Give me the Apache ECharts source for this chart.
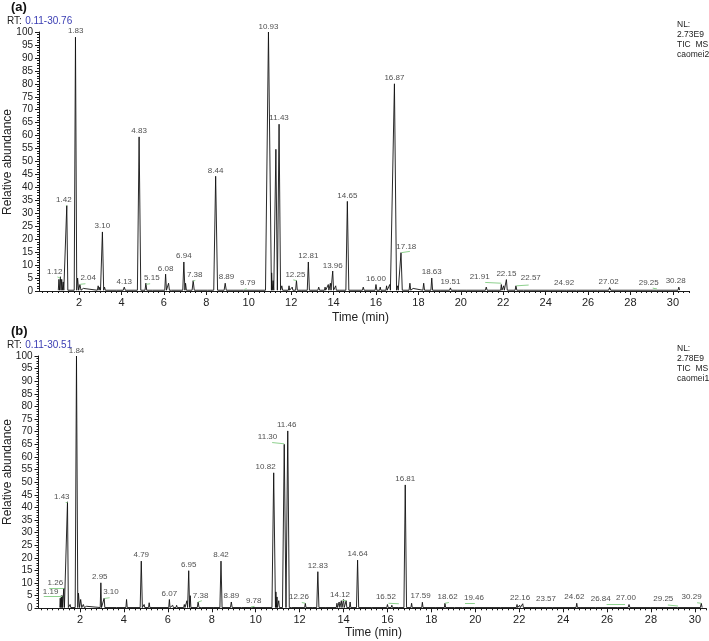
<!DOCTYPE html>
<html>
<head>
    <meta charset="UTF-8">
    <title>TIC caomei</title>
    <script src="https://cdn.jsdelivr.net/npm/echarts@6/dist/echarts.min.js"></script>
    <style>
        html, body { margin: 0; padding: 0; background: #fff; }
        #main { width: 709px; height: 641px; }
    </style>
</head>
<body>
<div id="main"></div>
<script>
    // peaks: [retention time, relative abundance, half width]
    var peaksA = [
        [1.05, 4.5, 0.03], [1.12, 5.5, 0.03], [1.18, 4.5, 0.03], [1.25, 3.5, 0.03],
        [1.42, 33, 0.05], [1.83, 98, 0.06], [1.93, 5, 0.05], [2.04, 2.5, 0.05], [2.2, 1, 0.05],
        [2.9, 2, 0.04], [2.98, 1.5, 0.03], [3.10, 22.8, 0.06], [3.2, 1.5, 0.04],
        [3.8, 0.8, 0.04], [4.13, 1.5, 0.05], [4.83, 59.5, 0.08], [5.15, 3, 0.04], [5.5, 0.7, 0.04],
        [6.08, 6.5, 0.04], [6.22, 3, 0.04], [6.4, 1, 0.04], [6.94, 11.2, 0.05], [7.02, 3, 0.04],
        [7.38, 4, 0.05], [7.6, 0.8, 0.04], [8.1, 0.8, 0.04], [8.44, 44.3, 0.09], [8.89, 3, 0.05],
        [9.3, 0.6, 0.04], [9.79, 0.8, 0.04], [10.93, 100, 0.14], [11.08, 7, 0.03], [11.15, 4, 0.03],
        [11.28, 54.7, 0.07], [11.43, 64.4, 0.07], [11.56, 2, 0.04], [11.9, 2, 0.03], [12.05, 1.5, 0.03],
        [12.25, 4, 0.04], [12.5, 1, 0.03], [12.81, 11.2, 0.05], [13.3, 1.5, 0.04], [13.6, 1.5, 0.03],
        [13.75, 2.5, 0.03], [13.85, 3, 0.03], [13.96, 7.7, 0.04], [14.1, 2, 0.03], [14.3, 1, 0.03],
        [14.65, 34.6, 0.07], [15.4, 1.5, 0.04], [16.0, 2.5, 0.04], [16.2, 1.5, 0.03], [16.5, 2, 0.03],
        [16.65, 2.5, 0.03], [16.87, 80, 0.1], [17.02, 2, 0.03], [17.18, 14.8, 0.06], [17.6, 3, 0.04],
        [17.75, 1, 0.03], [18.25, 3, 0.04], [18.63, 5, 0.04], [19.1, 0.8, 0.04], [19.51, 1.2, 0.04],
        [19.9, 0.8, 0.04], [20.3, 0.8, 0.04], [21.2, 1.5, 0.04], [21.91, 2.5, 0.03], [22.02, 2, 0.03],
        [22.15, 4.4, 0.04], [22.6, 2, 0.04], [23.0, 1, 0.04], [23.3, 0.8, 0.04], [24.2, 0.6, 0.04],
        [24.92, 0.8, 0.05], [25.5, 0.5, 0.04], [26.5, 0.6, 0.04], [27.02, 1.3, 0.05], [28.3, 0.5, 0.04],
        [29.25, 0.8, 0.04], [30.28, 1.5, 0.04]
    ];
    var peaksB = [
        [1.10, 4, 0.02], [1.15, 5, 0.02], [1.19, 5, 0.02], [1.26, 8, 0.03], [1.35, 1, 0.02],
        [1.43, 42.2, 0.04], [1.55, 1.5, 0.03], [1.84, 100, 0.06], [1.93, 6, 0.05], [2.03, 3.5, 0.05],
        [2.15, 1.5, 0.05], [2.3, 0.8, 0.04], [2.95, 10.1, 0.03], [3.10, 4, 0.03], [3.7, 0.6, 0.03],
        [4.12, 3.5, 0.03], [4.79, 18.7, 0.05], [4.92, 1.5, 0.03], [5.15, 2.2, 0.03], [6.07, 3.5, 0.03],
        [6.22, 1.2, 0.03], [6.4, 1.2, 0.03], [6.75, 1.5, 0.03], [6.87, 3, 0.03], [6.95, 14.9, 0.04],
        [7.02, 5, 0.03], [7.38, 2.5, 0.04], [7.5, 0.8, 0.03], [8.1, 1, 0.04], [8.42, 18.7, 0.05],
        [8.89, 2.5, 0.04], [9.4, 0.5, 0.04], [9.78, 0.6, 0.04], [10.82, 53.7, 0.08], [10.92, 6.5, 0.03],
        [10.97, 4.5, 0.02], [11.05, 3, 0.03], [11.30, 65, 0.08], [11.46, 70.3, 0.07], [11.6, 1, 0.03],
        [12.26, 2, 0.03], [12.6, 1, 0.03], [12.83, 14.5, 0.05], [13.2, 1, 0.04], [13.7, 2, 0.03],
        [13.8, 2.5, 0.03], [13.9, 3, 0.03], [14.0, 3.5, 0.03], [14.12, 3, 0.03], [14.3, 2.5, 0.03],
        [14.64, 19.1, 0.05], [15.3, 0.6, 0.04], [16.0, 1.5, 0.03], [16.2, 1.2, 0.03], [16.52, 1, 0.03],
        [16.81, 48.9, 0.06], [17.1, 2, 0.03], [17.59, 2.4, 0.03], [18.2, 0.8, 0.03], [18.62, 2, 0.03],
        [19.1, 0.6, 0.04], [19.46, 0.8, 0.04], [20.0, 0.6, 0.04], [21.2, 0.6, 0.04], [21.9, 1.5, 0.03],
        [22.02, 1.2, 0.03], [22.16, 1.8, 0.03], [23.3, 0.6, 0.04], [23.57, 0.6, 0.04], [24.62, 2, 0.03],
        [24.8, 1, 0.03], [25.5, 0.5, 0.04], [26.5, 0.5, 0.04], [27.0, 1.5, 0.04], [28.0, 0.5, 0.04],
        [29.25, 0.8, 0.04], [30.29, 2, 0.04]
    ];

    // peak annotations: [text, x, y]
    var labelsA = [
        ['1.12', 0.85, 5.3], ['1.42', 1.28, 33], ['1.83', 1.84, 98.3], ['2.04', 2.43, 2.8],
        ['3.10', 3.1, 23], ['4.13', 4.13, 1.6], ['4.83', 4.83, 59.6], ['5.15', 5.43, 2.8],
        ['6.08', 6.08, 6.6], ['6.94', 6.94, 11.3], ['7.38', 7.45, 4.2], ['8.44', 8.44, 44.4],
        ['8.89', 8.95, 3.2], ['9.79', 9.95, 0.9], ['10.93', 10.93, 100], ['11.43', 11.43, 64.6],
        ['12.25', 12.2, 4.2], ['12.81', 12.81, 11.3], ['13.96', 13.96, 7.8], ['14.65', 14.65, 34.8],
        ['16.00', 16.0, 2.6], ['16.87', 16.87, 80.2], ['17.18', 17.43, 14.8], ['18.63', 18.63, 5.1],
        ['19.51', 19.51, 1.3], ['21.91', 20.89, 3.2], ['22.15', 22.15, 4.6], ['22.57', 23.3, 2.9],
        ['24.92', 24.87, 1.0], ['27.02', 26.97, 1.6], ['29.25', 28.86, 1.2], ['30.28', 30.13, 1.7]
    ];
    var labelsB = [
        ['1.19', 0.66, 4.4], ['1.26', 0.88, 8], ['1.43', 1.17, 42], ['1.84', 1.84, 100],
        ['2.95', 2.9, 10.3], ['3.10', 3.41, 4.3], ['4.79', 4.79, 18.9], ['6.07', 6.07, 3.7],
        ['6.95', 6.95, 15.1], ['7.38', 7.49, 2.8], ['8.42', 8.42, 18.9], ['8.89', 8.89, 2.7],
        ['9.78', 9.91, 0.7], ['10.82', 10.45, 53.9], ['11.30', 10.54, 65.7], ['11.46', 11.41, 70.5],
        ['12.26', 11.97, 2.2], ['12.83', 12.83, 14.7], ['14.12', 13.84, 3.2], ['14.64', 14.64, 19.3],
        ['16.52', 15.93, 2.2], ['16.81', 16.81, 49.1], ['17.59', 17.51, 2.6], ['18.62', 18.74, 2.2],
        ['19.46', 19.94, 1.8], ['22.16', 22.04, 2.0], ['23.57', 23.22, 1.4], ['24.62', 24.51, 2.2],
        ['26.84', 25.71, 1.6], ['27.00', 26.86, 2.0], ['29.25', 28.56, 1.4], ['30.29', 29.85, 2.4]
    ];

    // green leader lines: [x1, y1, x2, y2]
    var leadersA = [
        [0.98, 5.4, 1.12, 5.0], [1.38, 33, 1.42, 33], [2.06, 2.6, 2.3, 2.8], [5.17, 2.6, 5.35, 2.8],
        [7.38, 3.8, 7.48, 4.1], [9.79, 0.6, 9.9, 0.9], [12.1, 4.3, 12.25, 4.0], [17.2, 14.8, 17.6, 15.3],
        [21.15, 3.3, 21.91, 3.0], [22.62, 2.0, 23.2, 2.3], [29.05, 1.1, 29.25, 0.8]
    ];
    var leadersB = [
        [0.35, 4.9, 1.19, 4.9], [0.6, 7.9, 1.26, 7.9], [1.35, 42.2, 1.43, 42.2], [3.12, 3.9, 3.35, 4.2],
        [7.38, 2.5, 7.55, 3.0], [9.78, 0.5, 9.95, 0.8], [10.75, 65.7, 11.3, 65.2], [12.1, 2.3, 12.26, 2.0],
        [13.95, 3.2, 14.12, 3.0], [16.05, 2.0, 16.52, 1.8], [18.62, 2.0, 18.8, 2.3], [19.53, 2.0, 19.98, 2.0],
        [25.98, 1.6, 26.82, 1.6], [28.77, 1.3, 29.23, 0.9], [30.1, 2.2, 30.29, 2.0]
    ];

    var timeTicks = [2, 4, 6, 8, 10, 12, 14, 16, 18, 20, 22, 24, 26, 28, 30];
    var rangeA = [0.11, 30.76];
    var rangeB = [0.11, 30.51];

    var BASE = 0.3;
    function trace(peaks) {
        var pts = [];
        peaks.forEach(function (p) {
            pts.push([p[0] - p[2], BASE]);
            pts.push([p[0], p[1]]);
            pts.push([p[0] + p[2], BASE]);
        });
        return pts;
    }
    function labelData(list) {
        return list.map(function (l) { return { name: l[0], value: [l[1], l[2]] }; });
    }
    function leaderData(list) {
        return list.map(function (l) { return { coords: [[l[0], l[1]], [l[2], l[3]]] }; });
    }
    var minorTicks = [];
    for (var t = 0.25; t < 31; t += 0.25) {
        if (t % 2 !== 0) minorTicks.push(t);
    }

    var font = 'Liberation Sans, Arial, sans-serif';
    var ink = '#1a1a1a';

    function majorX(grid, range) {
        return {
            type: 'value', gridIndex: grid, min: range[0], max: range[1], position: 'bottom',
            axisLine: { show: true, lineStyle: { color: ink, width: 1 } },
            axisTick: { show: true, length: 4, customValues: timeTicks, lineStyle: { color: ink } },
            axisLabel: { customValues: timeTicks, fontSize: 11, color: '#222', fontFamily: font, margin: 6 },
            splitLine: { show: false }
        };
    }
    function minorX(grid, range) {
        return {
            type: 'value', gridIndex: grid, min: range[0], max: range[1], position: 'bottom',
            axisLine: { show: false },
            axisTick: { show: true, length: 2, customValues: minorTicks, lineStyle: { color: ink } },
            axisLabel: { show: false },
            splitLine: { show: false }
        };
    }
    function yAx(grid) {
        return {
            type: 'value', gridIndex: grid, min: 0, max: 100, interval: 5,
            axisLine: { show: true, lineStyle: { color: ink, width: 1 } },
            axisTick: { show: true, length: 4, lineStyle: { color: ink } },
            minorTick: { show: true, splitNumber: 5, length: 2, lineStyle: { color: ink } },
            axisLabel: { fontSize: 10, color: '#222', fontFamily: font, margin: 6 },
            splitLine: { show: false }
        };
    }
    function traceSeries(peaks, xi, yi) {
        return {
            type: 'line', xAxisIndex: xi, yAxisIndex: yi, data: trace(peaks),
            symbol: 'none', lineStyle: { color: '#111', width: 0.9 }, z: 3
        };
    }
    function labelSeries(list, xi, yi) {
        return {
            type: 'scatter', xAxisIndex: xi, yAxisIndex: yi, data: labelData(list),
            symbolSize: 1, itemStyle: { color: 'transparent' }, clip: false, z: 5,
            label: {
                show: true, position: 'top', distance: 1, fontSize: 8, color: '#222', fontFamily: font,
                formatter: function (p) { return p.name; }
            }
        };
    }
    function leaderSeries(list, xi, yi) {
        return {
            type: 'lines', coordinateSystem: 'cartesian2d', xAxisIndex: xi, yAxisIndex: yi,
            data: leaderData(list), lineStyle: { color: '#8fd18f', width: 1, opacity: 1 }, z: 4
        };
    }
    function headText(y, tag, range, nl, file, nameY) {
        return [
            { type: 'text', left: 11, top: y, style: { text: tag, fontSize: 13, fontWeight: 'bold', fill: '#111', fontFamily: font } },
            { type: 'text', left: 7, top: y + 14, style: {
                text: '{k|RT:} {v|' + range[0].toFixed(2) + '-' + range[1].toFixed(2) + '}',
                rich: { k: { fontSize: 10, fill: '#222', fontFamily: font }, v: { fontSize: 10, fill: '#3a3db3', fontFamily: font } }
            } },
            { type: 'text', left: 677, top: y + 19, style: {
                text: 'NL:\n' + nl + '\nTIC  MS\n' + file, fontSize: 8.5, lineHeight: 10, fill: '#222', fontFamily: font
            } },
            { type: 'text', x: 8, y: nameY, rotation: Math.PI / 2, style: {
                text: 'Relative abundance', fontSize: 12, fill: '#222', fontFamily: font,
                align: 'center', verticalAlign: 'middle'
            } }
        ];
    }

    var chart = echarts.init(document.getElementById('main'), null, { renderer: 'canvas' });
    var option = {
        animation: false,
        backgroundColor: '#fff',
        grid: [
            { left: 39, top: 32, width: 650, height: 259, containLabel: false, outerBoundsMode: 'none' },
            { left: 38.5, top: 356, width: 667.6, height: 252.3, containLabel: false, outerBoundsMode: 'none' }
        ],
        xAxis: [majorX(0, rangeA), minorX(0, rangeA), majorX(1, rangeB), minorX(1, rangeB)],
        yAxis: [yAx(0), yAx(1)],
        graphic: headText(1, '(a)', rangeA, '2.73E9', 'caomei2', 162)
            .concat(headText(325, '(b)', rangeB, '2.78E9', 'caomei1', 472))
            .concat([
                { type: 'text', left: 332, top: 312, style: { text: 'Time (min)', fontSize: 12, fill: '#222', fontFamily: font } },
                { type: 'text', left: 345, top: 627, style: { text: 'Time (min)', fontSize: 12, fill: '#222', fontFamily: font } }
            ]),
        series: [
            traceSeries(peaksA, 0, 0), labelSeries(labelsA, 0, 0), leaderSeries(leadersA, 0, 0),
            traceSeries(peaksB, 2, 1), labelSeries(labelsB, 2, 1), leaderSeries(leadersB, 2, 1)
        ]
    };
    chart.setOption(option);
</script>
</body>
</html>
